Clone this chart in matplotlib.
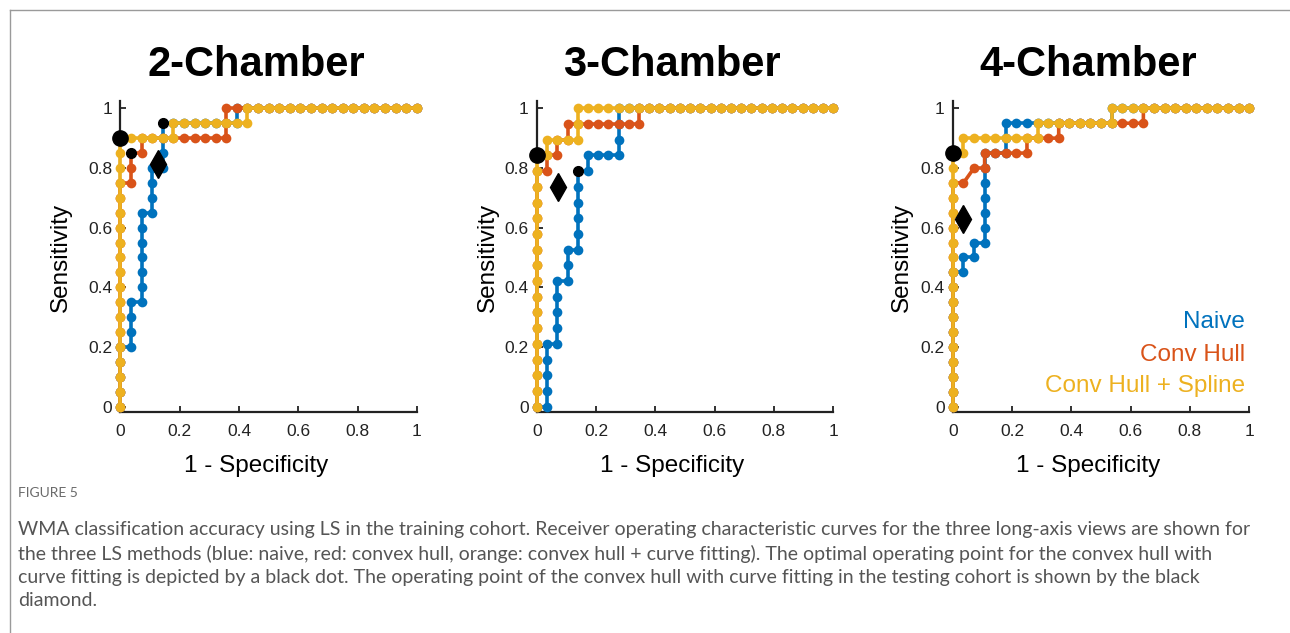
import numpy as np
import matplotlib.pyplot as plt
from matplotlib.lines import Line2D

plt.rcParams['font.family'] = ['Liberation Sans', 'DejaVu Sans']

c_naive = '#0072BD'
c_hull = '#D95319'
c_spline = '#EDB120'

views = ['2-Chamber', '3-Chamber', '4-Chamber']
n_neg = [28, 29, 28]
n_pos = [20, 19, 20]

# false positive / true positive counts at each threshold, 2-chamber
fp_naive_2ch = [0, 0, 0, 0, 0, 1, 1, 1, 1, 2, 2, 2, 2, 2, 2, 2, 3, 3, 3, 3, 4, 4, 4, 4,
                5, 6, 7, 8, 9, 10, 11, 11, 12, 13, 14, 15, 16, 17, 18, 19, 20, 21, 22, 23,
                24, 25, 26, 27, 28]
tp_naive_2ch = [0, 1, 2, 3, 4, 4, 5, 6, 7, 7, 8, 9, 10, 11, 12, 13, 13, 14, 15, 16, 16, 17,
                18, 19, 19, 19, 19, 19, 19, 19, 19, 20, 20, 20, 20, 20, 20, 20, 20, 20, 20,
                20, 20, 20, 20, 20, 20, 20, 20]
fp_hull_2ch = [0, 0, 0, 0, 0, 0, 0, 0, 0, 0, 0, 0, 0, 0, 0, 0, 1, 1, 1, 2, 2, 3, 4, 5, 6,
               7, 8, 9, 10, 10, 10, 11, 12, 13, 14, 15, 16, 17, 18, 19, 20, 21, 22, 23, 24,
               25, 26, 27, 28]
tp_hull_2ch = [0, 1, 2, 3, 4, 5, 6, 7, 8, 9, 10, 11, 12, 13, 14, 15, 15, 16, 17, 17, 18, 18,
               18, 18, 18, 18, 18, 18, 18, 19, 20, 20, 20, 20, 20, 20, 20, 20, 20, 20, 20,
               20, 20, 20, 20, 20, 20, 20, 20]
fp_spline_2ch = [0, 0, 0, 0, 0, 0, 0, 0, 0, 0, 0, 0, 0, 0, 0, 0, 0, 0, 0, 1, 2, 3, 4, 5, 5,
                 6, 7, 8, 9, 10, 11, 12, 12, 13, 14, 15, 16, 17, 18, 19, 20, 21, 22, 23, 24,
                 25, 26, 27, 28]
tp_spline_2ch = [0, 1, 2, 3, 4, 5, 6, 7, 8, 9, 10, 11, 12, 13, 14, 15, 16, 17, 18, 18, 18,
                 18, 18, 18, 19, 19, 19, 19, 19, 19, 19, 19, 20, 20, 20, 20, 20, 20, 20, 20,
                 20, 20, 20, 20, 20, 20, 20, 20, 20]

# 3-chamber
fp_naive_3ch = [0, 1, 1, 1, 1, 1, 2, 2, 2, 2, 2, 3, 3, 3, 4, 4, 4, 4, 4, 4, 5, 5, 6, 7, 8,
                8, 8, 8, 9, 10, 11, 12, 13, 14, 15, 16, 17, 18, 19, 20, 21, 22, 23, 24, 25,
                26, 27, 28, 29]
tp_naive_3ch = [0, 0, 1, 2, 3, 4, 4, 5, 6, 7, 8, 8, 9, 10, 10, 11, 12, 13, 14, 15, 15, 16,
                16, 16, 16, 17, 18, 19, 19, 19, 19, 19, 19, 19, 19, 19, 19, 19, 19, 19, 19,
                19, 19, 19, 19, 19, 19, 19, 19]
fp_hull_3ch = [0, 0, 0, 0, 0, 0, 0, 0, 0, 0, 0, 0, 0, 0, 0, 0, 1, 1, 2, 2, 3, 3, 4, 5, 6,
               7, 8, 9, 10, 10, 11, 12, 13, 14, 15, 16, 17, 18, 19, 20, 21, 22, 23, 24, 25,
               26, 27, 28, 29]
tp_hull_3ch = [0, 1, 2, 3, 4, 5, 6, 7, 8, 9, 10, 11, 12, 13, 14, 15, 15, 16, 16, 17, 17, 18,
               18, 18, 18, 18, 18, 18, 18, 19, 19, 19, 19, 19, 19, 19, 19, 19, 19, 19, 19,
               19, 19, 19, 19, 19, 19, 19, 19]
fp_spline_3ch = [0, 0, 0, 0, 0, 0, 0, 0, 0, 0, 0, 0, 0, 0, 0, 0, 0, 1, 1, 2, 3, 4, 4, 4, 5,
                 6, 7, 8, 9, 10, 11, 12, 13, 14, 15, 16, 17, 18, 19, 20, 21, 22, 23, 24, 25,
                 26, 27, 28, 29]
tp_spline_3ch = [0, 1, 2, 3, 4, 5, 6, 7, 8, 9, 10, 11, 12, 13, 14, 15, 16, 16, 17, 17, 17,
                 17, 18, 19, 19, 19, 19, 19, 19, 19, 19, 19, 19, 19, 19, 19, 19, 19, 19, 19,
                 19, 19, 19, 19, 19, 19, 19, 19, 19]

# 4-chamber
fp_naive_4ch = [0, 0, 0, 0, 0, 0, 0, 0, 0, 0, 1, 1, 2, 2, 3, 3, 3, 3, 3, 3, 3, 4, 5, 5, 5,
                6, 7, 8, 9, 10, 11, 12, 13, 14, 15, 15, 16, 17, 18, 19, 20, 21, 22, 23, 24,
                25, 26, 27, 28]
tp_naive_4ch = [0, 1, 2, 3, 4, 5, 6, 7, 8, 9, 9, 10, 10, 11, 11, 12, 13, 14, 15, 16, 17, 17,
                17, 18, 19, 19, 19, 19, 19, 19, 19, 19, 19, 19, 19, 20, 20, 20, 20, 20, 20,
                20, 20, 20, 20, 20, 20, 20, 20]
fp_hull_4ch = [0, 0, 0, 0, 0, 0, 0, 0, 0, 0, 0, 0, 0, 0, 0, 0, 1, 2, 3, 3, 4, 5, 6, 7, 7,
               8, 9, 10, 10, 11, 12, 13, 14, 15, 16, 17, 18, 18, 19, 20, 21, 22, 23, 24, 25,
               26, 27, 28]
tp_hull_4ch = [0, 1, 2, 3, 4, 5, 6, 7, 8, 9, 10, 11, 12, 13, 14, 15, 15, 16, 16, 17, 17, 17,
               17, 17, 18, 18, 18, 18, 19, 19, 19, 19, 19, 19, 19, 19, 19, 20, 20, 20, 20,
               20, 20, 20, 20, 20, 20, 20]
fp_spline_4ch = [0, 0, 0, 0, 0, 0, 0, 0, 0, 0, 0, 0, 0, 0, 0, 0, 0, 0, 1, 1, 2, 3, 4, 5, 6,
                 7, 8, 8, 9, 10, 11, 12, 13, 14, 15, 15, 16, 17, 18, 19, 20, 21, 22, 23, 24,
                 25, 26, 27, 28]
tp_spline_4ch = [0, 1, 2, 3, 4, 5, 6, 7, 8, 9, 10, 11, 12, 13, 14, 15, 16, 17, 17, 18, 18,
                 18, 18, 18, 18, 18, 18, 19, 19, 19, 19, 19, 19, 19, 19, 20, 20, 20, 20, 20,
                 20, 20, 20, 20, 20, 20, 20, 20, 20]

# operating points: training optimum (big dot), other methods (small dots), testing cohort (diamond)
opt_fp = [0, 0, 0]
opt_tp = [18, 16, 17]
small_view = [0, 0, 1]
small_fp = [1, 4, 4]
small_tp = [17, 19, 15]
test_fpr = [0.125, 0.07, 0.035]
test_tpr = [0.815, 0.735, 0.63]

curves = [
    [(fp_naive_2ch, tp_naive_2ch), (fp_hull_2ch, tp_hull_2ch), (fp_spline_2ch, tp_spline_2ch)],
    [(fp_naive_3ch, tp_naive_3ch), (fp_hull_3ch, tp_hull_3ch), (fp_spline_3ch, tp_spline_3ch)],
    [(fp_naive_4ch, tp_naive_4ch), (fp_hull_4ch, tp_hull_4ch), (fp_spline_4ch, tp_spline_4ch)],
]
colors = [c_naive, c_hull, c_spline]
legend_names = ['Naive', 'Conv Hull', 'Conv Hull + Spline']
ticks = [0, 0.2, 0.4, 0.6, 0.8, 1]
tick_labels = ['0', '0.2', '0.4', '0.6', '0.8', '1']

W, H = 1290, 633
fig = plt.figure(figsize=(W / 100, H / 100), dpi=100)

lefts = [119.3, 535.7, 951.7]
ax_w = 297.5
y0_px, y1_px = 406.7, 108.3
ylo, yhi = -0.017, 1.025
unit_y = y0_px - y1_px
bottom_px = y0_px - ylo * unit_y
top_px = y0_px - (yhi - 1) * unit_y - unit_y
ylabel_x = [-0.2, -0.165, -0.171]

for k in range(3):
    ax = fig.add_axes([lefts[k] / W, 1 - bottom_px / H, ax_w / W, (bottom_px - top_px) / H])
    ax.set_xlim(-0.004, 1.0)
    ax.set_ylim(ylo, yhi)
    for (fp, tp), col in zip(curves[k], colors):
        ax.plot(np.array(fp) / n_neg[k], np.array(tp) / n_pos[k], '-o', color=col,
                lw=2.6, ms=7.0, mec='none', zorder=3, clip_on=False)
    ax.plot(opt_fp[k] / n_neg[k], opt_tp[k] / n_pos[k], 'o', color='black', ms=11,
            zorder=5, clip_on=False)
    for v, f, t in zip(small_view, small_fp, small_tp):
        if v == k:
            ax.plot(f / n_neg[k], t / n_pos[k], 'o', color='black', ms=7.0, zorder=5)
    ax.plot(test_fpr[k], test_tpr[k], 'd', color='black', ms=14, zorder=5)

    for s in ['top', 'right']:
        ax.spines[s].set_visible(False)
    ax.spines['left'].set_position(('data', 0))
    ax.spines['bottom'].set_bounds(0, 1)
    for s in ['left', 'bottom']:
        ax.spines[s].set_linewidth(1.6)
        ax.spines[s].set_color('#222222')
    ax.set_xticks(ticks)
    ax.set_xticklabels(tick_labels)
    ax.set_yticks(ticks)
    ax.set_yticklabels(tick_labels)
    ax.tick_params(direction='in', length=4, width=1.3, labelsize=12.5, color='#222222',
                   labelcolor='#222222')
    ax.tick_params(axis='x', pad=9)
    ax.tick_params(axis='y', pad=6)
    ax.patch.set_alpha(0)

    ax.text(0.457, 1.145, views[k], ha='center', va='center', fontsize=30,
            fontweight='bold', clip_on=False)
    ax.text(0.457, -0.2, '1 - Specificity', ha='center', va='center', fontsize=17.5)
    ax.text(ylabel_x[k], 0.5, 'Sensitivity', ha='center', va='center', rotation=90,
            fontsize=17.5)

    if k == 2:
        for name, col, yy in zip(legend_names, colors, [0.284, 0.173, 0.069]):
            ax.text(0.985, yy, name, ha='right', va='center', fontsize=17.5, color=col)

# figure frame
fig.add_artist(Line2D([10 / W, 1], [1 - 10 / H, 1 - 10 / H], color='#9a9a9a', lw=1))
fig.add_artist(Line2D([10 / W, 10 / W], [0, 1 - 10 / H], color='#9a9a9a', lw=1))

caption = [
    'WMA classification accuracy using LS in the training cohort. Receiver operating characteristic curves for the three long-axis views are shown for',
    'the three LS methods (blue: naive, red: convex hull, orange: convex hull + curve fitting). The optimal operating point for the convex hull with',
    'curve fitting is depicted by a black dot. The operating point of the convex hull with curve fitting in the testing cohort is shown by the black',
    'diamond.',
]
fig.text(18 / W, 1 - 493 / H, 'FIGURE 5', ha='left', va='center', fontsize=10,
         color='#6a6a6a', family='Lato')
for i, line in enumerate(caption):
    fig.text(18 / W, 1 - (530 + 23.5 * i) / H, line, ha='left', va='center', fontsize=14,
             color='#555555', family='Lato')

fig.savefig('out.png', dpi=100)
